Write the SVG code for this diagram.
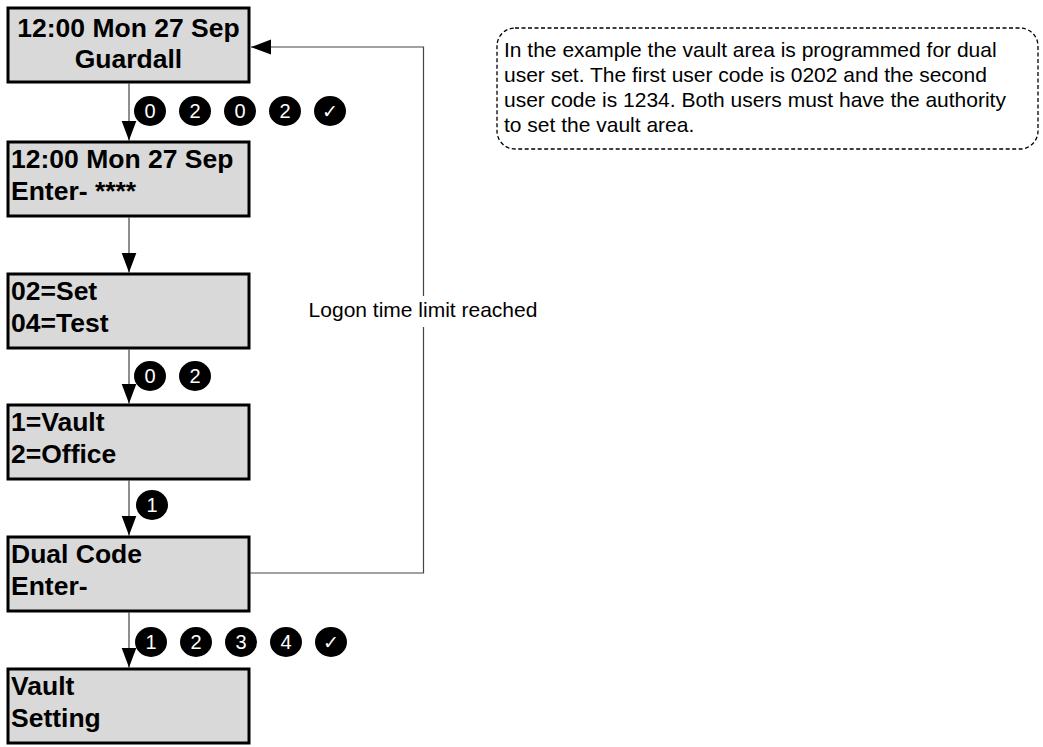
<svg xmlns="http://www.w3.org/2000/svg" width="1043" height="747" viewBox="0 0 1043 747">
<style>
.box{fill:#d9d9d9;stroke:#000;stroke-width:3}
.bt{font-family:"Liberation Sans",Arial,sans-serif;font-weight:bold;font-size:26.5px;fill:#000}
.conn{fill:none;stroke:#444;stroke-width:1.2}
.badge{fill:#000}
.bn{font-family:"Liberation Sans",Arial,sans-serif;font-size:20px;fill:#fff;text-anchor:middle}
.ck{font-family:"DejaVu Sans",sans-serif;font-size:19px;fill:#fff;text-anchor:middle}
.lbl{font-family:"Liberation Sans",Arial,sans-serif;font-size:21px;fill:#000}
.note{fill:#fff;stroke:#000;stroke-width:1.3;stroke-dasharray:4 2.5}
</style>
<defs>
<marker id="ah" markerUnits="userSpaceOnUse" markerWidth="22" markerHeight="16" refX="20" refY="7.5" orient="auto">
<path d="M0,0 L20,7.5 L0,15 Z" fill="#000"/>
</marker>
</defs>
<g id="connectors">
<line class="conn" x1="129" y1="83.5" x2="129" y2="140.5" marker-end="url(#ah)"/>
<line class="conn" x1="129" y1="217.5" x2="129" y2="272.5" marker-end="url(#ah)"/>
<line class="conn" x1="129" y1="349.5" x2="129" y2="403.5" marker-end="url(#ah)"/>
<line class="conn" x1="129" y1="480.5" x2="129" y2="535.5" marker-end="url(#ah)"/>
<line class="conn" x1="129" y1="612.5" x2="129" y2="667.5" marker-end="url(#ah)"/>
<path class="conn" d="M250.5,573 H423.5 V47 H251" marker-end="url(#ah)"/>
<rect x="300" y="296" width="246" height="31" fill="#fff"/>
<text class="lbl" x="423" y="317" text-anchor="middle">Logon time limit reached</text>
</g>
<g id="node1">
<rect class="box" x="8" y="8" width="241" height="74"/>
<text class="bt" x="128.5" y="37" text-anchor="middle">12:00 Mon 27 Sep</text>
<text class="bt" x="128.5" y="68" text-anchor="middle">Guardall</text>
</g>
<g id="keys1">
<ellipse class="badge" cx="150" cy="111" rx="16" ry="15"/><text class="bn" x="150" y="118">0</text>
<ellipse class="badge" cx="195" cy="111" rx="16" ry="15"/><text class="bn" x="195" y="118">2</text>
<ellipse class="badge" cx="240" cy="111" rx="16" ry="15"/><text class="bn" x="240" y="118">0</text>
<ellipse class="badge" cx="285" cy="111" rx="16" ry="15"/><text class="bn" x="285" y="118">2</text>
<ellipse class="badge" cx="330" cy="111" rx="16" ry="15"/><text class="ck" x="330" y="118">✓</text>
</g>
<g id="node2">
<rect class="box" x="8" y="142" width="241" height="74"/>
<text class="bt" x="11" y="168">12:00 Mon 27 Sep</text>
<text class="bt" x="11" y="200">Enter- ****</text>
</g>
<g id="node3">
<rect class="box" x="8" y="274" width="241" height="74"/>
<text class="bt" x="11" y="300">02=Set</text>
<text class="bt" x="11" y="332">04=Test</text>
</g>
<g id="keys2">
<ellipse class="badge" cx="150" cy="376" rx="16" ry="15"/><text class="bn" x="150" y="383">0</text>
<ellipse class="badge" cx="195" cy="376" rx="16" ry="15"/><text class="bn" x="195" y="383">2</text>
</g>
<g id="node4">
<rect class="box" x="8" y="405" width="241" height="74"/>
<text class="bt" x="11" y="431">1=Vault</text>
<text class="bt" x="11" y="463">2=Office</text>
</g>
<g id="keys3">
<ellipse class="badge" cx="152" cy="505" rx="16" ry="15"/><text class="bn" x="152" y="512">1</text>
</g>
<g id="node5">
<rect class="box" x="8" y="537" width="241" height="74"/>
<text class="bt" x="11" y="563">Dual Code</text>
<text class="bt" x="11" y="595">Enter-</text>
</g>
<g id="keys4">
<ellipse class="badge" cx="151" cy="642" rx="16" ry="15"/><text class="bn" x="151" y="649">1</text>
<ellipse class="badge" cx="196" cy="642" rx="16" ry="15"/><text class="bn" x="196" y="649">2</text>
<ellipse class="badge" cx="241" cy="642" rx="16" ry="15"/><text class="bn" x="241" y="649">3</text>
<ellipse class="badge" cx="286" cy="642" rx="16" ry="15"/><text class="bn" x="286" y="649">4</text>
<ellipse class="badge" cx="331" cy="642" rx="16" ry="15"/><text class="ck" x="331" y="649">✓</text>
</g>
<g id="node6">
<rect class="box" x="8" y="669" width="241" height="74"/>
<text class="bt" x="11" y="695">Vault</text>
<text class="bt" x="11" y="727">Setting</text>
</g>
<g id="note">
<rect class="note" x="497" y="28" width="541" height="121" rx="18"/>
<text class="lbl" x="504" y="57">In the example the vault area is programmed for dual</text>
<text class="lbl" x="504" y="82">user set. The first user code is 0202 and the second</text>
<text class="lbl" x="504" y="107">user code is 1234. Both users must have the authority</text>
<text class="lbl" x="504" y="132">to set the vault area.</text>
</g>
</svg>
